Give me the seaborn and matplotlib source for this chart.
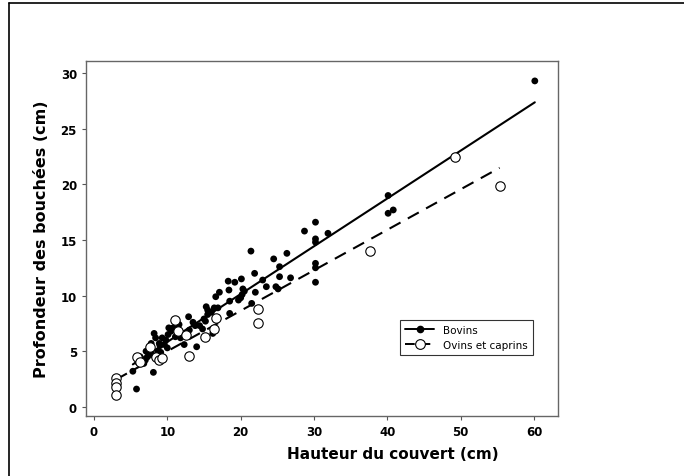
import matplotlib
matplotlib.use('Agg')
import matplotlib.pyplot as plt
from matplotlib.lines import Line2D
import seaborn as sns
import pandas as pd

# Bovins (points pleins)
bov_x = [5.3, 5.8, 6.3, 6.5, 6.8, 7.1, 7.3, 7.8, 7.9, 8.1, 8.2, 8.4, 8.5, 8.9, 9.1,
         9.3, 9.6, 10.1, 10.2, 10.8, 11.1, 11.4, 11.8, 12.3, 12.9, 13.8, 14.0, 14.4,
         15.2, 15.3, 15.5, 15.5, 16.2, 16.4, 16.6, 16.9, 17.1, 18.3, 18.4, 18.5, 18.5,
         19.2, 19.7, 20.1, 20.2, 20.3, 20.5, 21.4, 21.5, 21.9, 23.0, 23.5, 24.5, 24.8,
         25.1, 25.3, 25.3, 26.3, 26.8, 28.7, 30.2, 30.2, 30.2, 30.2, 30.2, 30.2, 31.9,
         40.1, 40.1, 40.8, 60.1,
         7.5, 8.7, 9.8, 10.5, 12.0, 13.0, 14.8, 13.5, 11.6, 10.0, 9.0, 7.0, 6.0, 15.0,
         16.0, 20.0, 22.0]
bov_y = [3.2, 1.6, 4.5, 4.2, 3.9, 5.0, 4.5, 5.7, 4.7, 3.1, 6.6, 6.2, 4.5, 5.7, 4.9,
         6.2, 5.6, 6.5, 7.1, 7.1, 6.3, 7.0, 6.2, 5.6, 8.1, 7.3, 5.4, 7.3,
         7.7, 9.0, 8.7, 8.3, 6.6, 8.9, 9.9, 8.9, 10.3, 11.3, 10.5, 9.5, 8.4,
         11.2, 9.6, 11.5, 10.1, 10.6, 10.4, 14.0, 9.3, 12.0, 11.4, 10.8, 13.3, 10.8,
         10.6, 12.6, 11.7, 13.8, 11.6, 15.8, 16.6, 15.1, 14.8, 12.9, 12.5, 11.2, 15.6,
         19.0, 17.4, 17.7, 29.3,
         5.2, 5.0, 6.0, 6.8, 6.6, 6.9, 7.0, 7.6, 7.4, 5.3, 5.5, 4.2, 4.0, 7.9,
         8.5, 9.8, 10.3]

# Ovins et caprins (cercles vides)
ovi_x = [3.0, 3.0, 3.0, 3.0, 5.85, 6.3, 7.6, 8.5, 8.9, 9.3, 11.0, 11.5, 12.5, 12.9,
         15.2, 16.3, 16.7, 22.3, 22.3, 37.6, 49.2, 55.3]
ovi_y = [2.6, 2.1, 1.75, 1.1, 4.45, 4.0, 5.4, 4.5, 4.2, 4.4, 7.8, 6.8, 6.5, 4.6,
         6.25, 7.0, 8.0, 8.8, 7.55, 14.0, 22.5, 19.85]

x_ticks = [0, 10, 20, 30, 40, 50, 60]
y_ticks = [0, 5, 10, 15, 20, 25, 30]

bov = pd.DataFrame({'x': bov_x, 'y': bov_y})
ovi = pd.DataFrame({'x': ovi_x, 'y': ovi_y})

sns.set_style('ticks')
plt.rcParams['font.family'] = ['DejaVu Sans']
plt.rcParams['text.color'] = 'black'
plt.rcParams['axes.labelcolor'] = 'black'
plt.rcParams['xtick.labelcolor'] = 'black'
plt.rcParams['ytick.labelcolor'] = 'black'

fig = plt.figure(figsize=(6.84, 4.77), dpi=100)
ax = fig.add_axes([0.1257, 0.1254, 0.6905, 0.7446])

sns.regplot(data=bov, x='x', y='y', ax=ax, ci=None, truncate=True,
            scatter_kws=dict(s=24, color='black', edgecolor='none', alpha=1, zorder=3),
            line_kws=dict(color='black', lw=1.5, zorder=2))
sns.regplot(data=ovi, x='x', y='y', ax=ax, ci=None, truncate=True,
            scatter_kws=dict(s=46, facecolor='white', edgecolor='black', alpha=1,
                             linewidths=0.8, zorder=4),
            line_kws=dict(color='black', lw=1.5, ls=(0, (6, 4)), zorder=2))

ax.set_xlim(-1.09, 63.3)
ax.set_ylim(-0.84, 31.09)
ax.set_xticks(x_ticks)
ax.set_yticks(y_ticks)
ax.tick_params(labelsize=8.5, length=3, width=0.8, color='#555555')
for lab in ax.get_xticklabels() + ax.get_yticklabels():
    lab.set_fontweight('bold')
for sp in ax.spines.values():
    sp.set_color('#666666')
    sp.set_linewidth(1.0)

ax.set_xlabel('Hauteur du couvert (cm)', fontsize=11, fontweight='heavy', labelpad=6)
ax.xaxis.set_label_coords(0.65, -0.085)
ax.set_ylabel('Profondeur des bouchées (cm)', fontsize=11.5, fontweight='heavy', labelpad=8)

handles = [Line2D([], [], color='black', lw=1.4, marker='o', markersize=4.5),
           Line2D([], [], color='black', lw=1.4, ls=(0, (5, 3)), marker='o',
                  markersize=7, markerfacecolor='white', markeredgewidth=0.8)]
leg = ax.legend(handles, ['Bovins', 'Ovins et caprins'], loc='lower left',
                bbox_to_anchor=(0.654, 0.158), fontsize=7.5, frameon=True,
                fancybox=False, edgecolor='black', handlelength=2.8,
                borderpad=0.5, labelspacing=0.45)
leg.get_frame().set_linewidth(0.8)

# cadre autour de la figure
fig.add_artist(Line2D([0.0132, 1.0], [0.9916, 0.9916], color='black', lw=1.2))
fig.add_artist(Line2D([0.0132, 0.0132], [0.0, 0.9916], color='black', lw=1.2))

fig.savefig('out.png', dpi=100)
